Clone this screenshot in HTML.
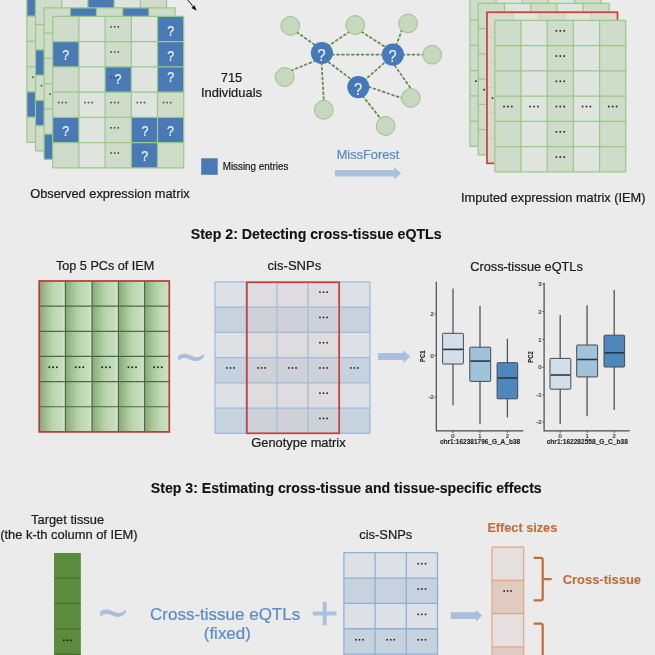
<!DOCTYPE html>
<html><head><meta charset="utf-8"><style>
html,body{margin:0;padding:0;background:#ebebeb;}
body{width:655px;height:655px;overflow:hidden;}
svg{display:block;font-family:"Liberation Sans", sans-serif;filter:blur(0.35px);}
</style></head><body>
<svg width="655" height="655" viewBox="0 0 655 655">
<rect width="655" height="655" fill="#ebebeb"/>
<rect x="26.9" y="-9.05" width="26.2" height="151.5" fill="#cedcc9"/><rect x="53.1" y="-9.05" width="26.2" height="151.5" fill="#dfe5de"/><rect x="79.3" y="-9.05" width="26.2" height="151.5" fill="#cedcc9"/><rect x="105.5" y="-9.05" width="26.2" height="151.5" fill="#dfe5de"/><rect x="131.7" y="-9.05" width="26.2" height="151.5" fill="#cedcc9"/><rect x="26.9" y="-9.05" width="26.2" height="25.25" fill="#4a7ab6"/><rect x="26.9" y="91.95" width="26.2" height="25.25" fill="#4a7ab6"/><rect x="32.1" y="76.4" width="1.6" height="1.6" fill="#4a4a4a"/><rect x="35.7" y="76.4" width="1.6" height="1.6" fill="#4a4a4a"/><rect x="39.3" y="76.4" width="1.6" height="1.6" fill="#4a4a4a"/><path d="M26.9 -9.05V142.45M53.1 -9.05V142.45M79.3 -9.05V142.45M105.5 -9.05V142.45M131.7 -9.05V142.45M157.9 -9.05V142.45M26.9 -9.05H157.9M26.9 16.2H157.9M26.9 41.45H157.9M26.9 66.7H157.9M26.9 91.95H157.9M26.9 117.2H157.9M26.9 142.45H157.9" stroke="#97c987" stroke-width="1.2" fill="none"/>
<rect x="35.5" y="-0.6" width="26.2" height="151.5" fill="#cedcc9"/><rect x="61.7" y="-0.6" width="26.2" height="151.5" fill="#dfe5de"/><rect x="87.9" y="-0.6" width="26.2" height="151.5" fill="#cedcc9"/><rect x="114.1" y="-0.6" width="26.2" height="151.5" fill="#dfe5de"/><rect x="140.3" y="-0.6" width="26.2" height="151.5" fill="#cedcc9"/><rect x="35.5" y="49.9" width="26.2" height="25.25" fill="#4a7ab6"/><rect x="35.5" y="100.4" width="26.2" height="25.25" fill="#4a7ab6"/><rect x="87.9" y="-0.6" width="26.2" height="25.25" fill="#4a7ab6"/><rect x="40.7" y="84.85" width="1.6" height="1.6" fill="#4a4a4a"/><rect x="44.3" y="84.85" width="1.6" height="1.6" fill="#4a4a4a"/><rect x="47.9" y="84.85" width="1.6" height="1.6" fill="#4a4a4a"/><path d="M35.5 -0.6V150.9M61.7 -0.6V150.9M87.9 -0.6V150.9M114.1 -0.6V150.9M140.3 -0.6V150.9M166.5 -0.6V150.9M35.5 -0.6H166.5M35.5 24.65H166.5M35.5 49.9H166.5M35.5 75.15H166.5M35.5 100.4H166.5M35.5 125.65H166.5M35.5 150.9H166.5" stroke="#97c987" stroke-width="1.2" fill="none"/>
<rect x="44.1" y="7.85" width="26.2" height="151.5" fill="#cedcc9"/><rect x="70.3" y="7.85" width="26.2" height="151.5" fill="#dfe5de"/><rect x="96.5" y="7.85" width="26.2" height="151.5" fill="#cedcc9"/><rect x="122.7" y="7.85" width="26.2" height="151.5" fill="#dfe5de"/><rect x="148.9" y="7.85" width="26.2" height="151.5" fill="#cedcc9"/><rect x="44.1" y="134.1" width="26.2" height="25.25" fill="#4a7ab6"/><rect x="70.3" y="7.85" width="26.2" height="25.25" fill="#4a7ab6"/><rect x="122.7" y="7.85" width="26.2" height="25.25" fill="#4a7ab6"/><rect x="49.3" y="93.3" width="1.6" height="1.6" fill="#4a4a4a"/><rect x="52.9" y="93.3" width="1.6" height="1.6" fill="#4a4a4a"/><rect x="56.5" y="93.3" width="1.6" height="1.6" fill="#4a4a4a"/><path d="M44.1 7.85V159.35M70.3 7.85V159.35M96.5 7.85V159.35M122.7 7.85V159.35M148.9 7.85V159.35M175.1 7.85V159.35M44.1 7.85H175.1M44.1 33.1H175.1M44.1 58.35H175.1M44.1 83.6H175.1M44.1 108.85H175.1M44.1 134.1H175.1M44.1 159.35H175.1" stroke="#97c987" stroke-width="1.2" fill="none"/>
<rect x="52.7" y="16.3" width="26.2" height="151.5" fill="#cedcc9"/><rect x="78.9" y="16.3" width="26.2" height="151.5" fill="#dfe5de"/><rect x="105.1" y="16.3" width="26.2" height="151.5" fill="#cedcc9"/><rect x="131.3" y="16.3" width="26.2" height="151.5" fill="#dfe5de"/><rect x="157.5" y="16.3" width="26.2" height="151.5" fill="#cedcc9"/><rect x="157.5" y="16.3" width="26.2" height="25.25" fill="#4a7ab6"/><rect x="52.7" y="41.55" width="26.2" height="25.25" fill="#4a7ab6"/><rect x="157.5" y="41.55" width="26.2" height="25.25" fill="#4a7ab6"/><rect x="105.1" y="66.8" width="26.2" height="25.25" fill="#4a7ab6"/><rect x="157.5" y="66.8" width="26.2" height="25.25" fill="#4a7ab6"/><rect x="52.7" y="117.3" width="26.2" height="25.25" fill="#4a7ab6"/><rect x="131.3" y="117.3" width="26.2" height="25.25" fill="#4a7ab6"/><rect x="157.5" y="117.3" width="26.2" height="25.25" fill="#4a7ab6"/><rect x="131.3" y="142.55" width="26.2" height="25.25" fill="#4a7ab6"/><rect x="110.3" y="26" width="1.6" height="1.6" fill="#4a4a4a"/><rect x="113.9" y="26" width="1.6" height="1.6" fill="#4a4a4a"/><rect x="117.5" y="26" width="1.6" height="1.6" fill="#4a4a4a"/><rect x="110.3" y="51.25" width="1.6" height="1.6" fill="#4a4a4a"/><rect x="113.9" y="51.25" width="1.6" height="1.6" fill="#4a4a4a"/><rect x="117.5" y="51.25" width="1.6" height="1.6" fill="#4a4a4a"/><rect x="110.3" y="76.5" width="1.6" height="1.6" fill="#4a4a4a"/><rect x="113.9" y="76.5" width="1.6" height="1.6" fill="#4a4a4a"/><rect x="117.5" y="76.5" width="1.6" height="1.6" fill="#4a4a4a"/><rect x="57.9" y="101.75" width="1.6" height="1.6" fill="#4a4a4a"/><rect x="61.5" y="101.75" width="1.6" height="1.6" fill="#4a4a4a"/><rect x="65.1" y="101.75" width="1.6" height="1.6" fill="#4a4a4a"/><rect x="84.1" y="101.75" width="1.6" height="1.6" fill="#4a4a4a"/><rect x="87.7" y="101.75" width="1.6" height="1.6" fill="#4a4a4a"/><rect x="91.3" y="101.75" width="1.6" height="1.6" fill="#4a4a4a"/><rect x="110.3" y="101.75" width="1.6" height="1.6" fill="#4a4a4a"/><rect x="113.9" y="101.75" width="1.6" height="1.6" fill="#4a4a4a"/><rect x="117.5" y="101.75" width="1.6" height="1.6" fill="#4a4a4a"/><rect x="136.5" y="101.75" width="1.6" height="1.6" fill="#4a4a4a"/><rect x="140.1" y="101.75" width="1.6" height="1.6" fill="#4a4a4a"/><rect x="143.7" y="101.75" width="1.6" height="1.6" fill="#4a4a4a"/><rect x="162.7" y="101.75" width="1.6" height="1.6" fill="#4a4a4a"/><rect x="166.3" y="101.75" width="1.6" height="1.6" fill="#4a4a4a"/><rect x="169.9" y="101.75" width="1.6" height="1.6" fill="#4a4a4a"/><rect x="110.3" y="127" width="1.6" height="1.6" fill="#4a4a4a"/><rect x="113.9" y="127" width="1.6" height="1.6" fill="#4a4a4a"/><rect x="117.5" y="127" width="1.6" height="1.6" fill="#4a4a4a"/><rect x="110.3" y="152.25" width="1.6" height="1.6" fill="#4a4a4a"/><rect x="113.9" y="152.25" width="1.6" height="1.6" fill="#4a4a4a"/><rect x="117.5" y="152.25" width="1.6" height="1.6" fill="#4a4a4a"/><path d="M52.7 16.3V167.8M78.9 16.3V167.8M105.1 16.3V167.8M131.3 16.3V167.8M157.5 16.3V167.8M183.7 16.3V167.8M52.7 16.3H183.7M52.7 41.55H183.7M52.7 66.8H183.7M52.7 92.05H183.7M52.7 117.3H183.7M52.7 142.55H183.7M52.7 167.8H183.7" stroke="#97c987" stroke-width="1.2" fill="none"/><text transform="translate(170.6 36.07) scale(0.88 1)" font-size="14.2" fill="#eef2f9" stroke="#eef2f9" stroke-width="0.25" text-anchor="middle">?</text><text transform="translate(65.8 60.02) scale(0.88 1)" font-size="14.2" fill="#eef2f9" stroke="#eef2f9" stroke-width="0.25" text-anchor="middle">?</text><text transform="translate(170.7 60.52) scale(0.88 1)" font-size="14.2" fill="#eef2f9" stroke="#eef2f9" stroke-width="0.25" text-anchor="middle">?</text><text transform="translate(118 84.37) scale(0.88 1)" font-size="14.2" fill="#eef2f9" stroke="#eef2f9" stroke-width="0.25" text-anchor="middle">?</text><text transform="translate(170.7 81.97) scale(0.88 1)" font-size="14.2" fill="#eef2f9" stroke="#eef2f9" stroke-width="0.25" text-anchor="middle">?</text><text transform="translate(65.8 136.37) scale(0.88 1)" font-size="14.2" fill="#eef2f9" stroke="#eef2f9" stroke-width="0.25" text-anchor="middle">?</text><text transform="translate(144.9 136.37) scale(0.88 1)" font-size="14.2" fill="#eef2f9" stroke="#eef2f9" stroke-width="0.25" text-anchor="middle">?</text><text transform="translate(170.4 136.37) scale(0.88 1)" font-size="14.2" fill="#eef2f9" stroke="#eef2f9" stroke-width="0.25" text-anchor="middle">?</text><text transform="translate(144.7 160.62) scale(0.88 1)" font-size="14.2" fill="#eef2f9" stroke="#eef2f9" stroke-width="0.25" text-anchor="middle">?</text>
<path d="M187 -1 L193.2 6.6" stroke="#111" stroke-width="1"/>
<path d="M196.6 10.7 L191.3 7.9 L194.6 5.2 Z" fill="#111"/>
<text x="231.5" y="82" font-size="12.9" text-anchor="middle" fill="#1a1a1a" stroke="#1a1a1a" stroke-width="0.22">715</text>
<text x="231.5" y="97" font-size="12.9" text-anchor="middle" fill="#1a1a1a" stroke="#1a1a1a" stroke-width="0.22">Individuals</text>
<path d="M296.27 31.84L315.23 45.16M350.24 31.16L328.56 45.84M331.5 54.6L384 54.6M290.62 70.98L314.68 60.92M321.51 62.2L323.89 101.8M328.1 61.79L351.6 79.61M361.14 31.49L386.16 47.51M402.22 29.19L396.38 44.91M402 54.7L424.1 54.7M384.53 62.71L364.87 79.89M394.44 65.17L411.66 89.63M368.18 86.62L402.72 98.38M362.27 95.42L381.53 119.78" stroke="#5e8a4a" stroke-width="1.7" stroke-dasharray="3.3 1.6" fill="none"/>
<circle cx="290.3" cy="25.8" r="9.4" fill="#c6d9bf" stroke="#9cc18c" stroke-width="1"/>
<circle cx="355.2" cy="25" r="9.4" fill="#c6d9bf" stroke="#9cc18c" stroke-width="1"/>
<circle cx="408.1" cy="23.4" r="9.4" fill="#c6d9bf" stroke="#9cc18c" stroke-width="1"/>
<circle cx="432.2" cy="54.7" r="9.4" fill="#c6d9bf" stroke="#9cc18c" stroke-width="1"/>
<circle cx="284.7" cy="77" r="9.4" fill="#c6d9bf" stroke="#9cc18c" stroke-width="1"/>
<circle cx="323.8" cy="109.8" r="9.4" fill="#c6d9bf" stroke="#9cc18c" stroke-width="1"/>
<circle cx="410.8" cy="97.9" r="9.4" fill="#c6d9bf" stroke="#9cc18c" stroke-width="1"/>
<circle cx="385.6" cy="126" r="9.4" fill="#c6d9bf" stroke="#9cc18c" stroke-width="1"/>
<circle cx="321.9" cy="53" r="11.05" fill="#4679b8"/>
<text transform="translate(321.6 60.5) scale(0.88 1)" font-size="16.6" fill="#eef2f9" stroke="#eef2f9" stroke-width="0.15" text-anchor="middle">?</text>
<circle cx="392.9" cy="54.6" r="11.05" fill="#4679b8"/>
<text transform="translate(392.6 62.1) scale(0.88 1)" font-size="16.6" fill="#eef2f9" stroke="#eef2f9" stroke-width="0.15" text-anchor="middle">?</text>
<circle cx="358.3" cy="87.1" r="11.05" fill="#4679b8"/>
<text transform="translate(358 94.6) scale(0.88 1)" font-size="16.6" fill="#eef2f9" stroke="#eef2f9" stroke-width="0.15" text-anchor="middle">?</text>
<rect x="201.2" y="158.3" width="16.5" height="16.5" fill="#4a7ab6"/>
<text transform="translate(222.7 169.6) scale(0.9 1)" font-size="10.95" fill="#1a1a1a" stroke="#1a1a1a" stroke-width="0.22">Missing entries</text>
<text x="336.7" y="158.7" font-size="12.8" fill="#5b8cc2" stroke="#5b8cc2" stroke-width="0.22">MissForest</text>
<path d="M334.9 169.9 H394.1 V166.9 L401.1 173.2 L394.1 179.7 V176.4 H334.9 Z" fill="#a9c1dd"/>
<text x="30.2" y="197.5" font-size="12.82" fill="#1a1a1a" stroke="#1a1a1a" stroke-width="0.22">Observed expression matrix</text>
<rect x="469.9" y="-5.05" width="26.2" height="151.5" fill="#cedcc9"/><rect x="496.1" y="-5.05" width="26.2" height="151.5" fill="#dfe5de"/><rect x="522.3" y="-5.05" width="26.2" height="151.5" fill="#cedcc9"/><rect x="548.5" y="-5.05" width="26.2" height="151.5" fill="#dfe5de"/><rect x="574.7" y="-5.05" width="26.2" height="151.5" fill="#cedcc9"/><path d="M469.9 -5.05V146.45M496.1 -5.05V146.45M522.3 -5.05V146.45M548.5 -5.05V146.45M574.7 -5.05V146.45M600.9 -5.05V146.45M469.9 -5.05H600.9M469.9 20.2H600.9M469.9 45.45H600.9M469.9 70.7H600.9M469.9 95.95H600.9M469.9 121.2H600.9M469.9 146.45H600.9" stroke="#97c987" stroke-width="1.2" fill="none"/><rect x="475.1" y="80.4" width="1.6" height="1.6" fill="#1e1e1e"/><rect x="478.3" y="80.4" width="1.6" height="1.6" fill="#1e1e1e"/><rect x="481.5" y="80.4" width="1.6" height="1.6" fill="#1e1e1e"/>
<rect x="478.2" y="3.4" width="26.2" height="151.5" fill="#cedcc9"/><rect x="504.4" y="3.4" width="26.2" height="151.5" fill="#dfe5de"/><rect x="530.6" y="3.4" width="26.2" height="151.5" fill="#cedcc9"/><rect x="556.8" y="3.4" width="26.2" height="151.5" fill="#dfe5de"/><rect x="583" y="3.4" width="26.2" height="151.5" fill="#cedcc9"/><path d="M478.2 3.4V154.9M504.4 3.4V154.9M530.6 3.4V154.9M556.8 3.4V154.9M583 3.4V154.9M609.2 3.4V154.9M478.2 3.4H609.2M478.2 28.65H609.2M478.2 53.9H609.2M478.2 79.15H609.2M478.2 104.4H609.2M478.2 129.65H609.2M478.2 154.9H609.2" stroke="#97c987" stroke-width="1.2" fill="none"/><rect x="483.4" y="88.85" width="1.6" height="1.6" fill="#1e1e1e"/><rect x="486.6" y="88.85" width="1.6" height="1.6" fill="#1e1e1e"/><rect x="489.8" y="88.85" width="1.6" height="1.6" fill="#1e1e1e"/>
<rect x="486.5" y="11.85" width="26.2" height="151.5" fill="#d9dccc"/><rect x="512.7" y="11.85" width="26.2" height="151.5" fill="#e3e5dc"/><rect x="538.9" y="11.85" width="26.2" height="151.5" fill="#d9dccc"/><rect x="565.1" y="11.85" width="26.2" height="151.5" fill="#e3e5dc"/><rect x="591.3" y="11.85" width="26.2" height="151.5" fill="#d9dccc"/><path d="M486.5 11.85V163.35M512.7 11.85V163.35M538.9 11.85V163.35M565.1 11.85V163.35M591.3 11.85V163.35M617.5 11.85V163.35M486.5 11.85H617.5M486.5 37.1H617.5M486.5 62.35H617.5M486.5 87.6H617.5M486.5 112.85H617.5M486.5 138.1H617.5M486.5 163.35H617.5" stroke="#c2d9b2" stroke-width="1.2" fill="none"/><rect x="491.7" y="97.3" width="1.6" height="1.6" fill="#1e1e1e"/><rect x="494.9" y="97.3" width="1.6" height="1.6" fill="#1e1e1e"/><rect x="498.1" y="97.3" width="1.6" height="1.6" fill="#1e1e1e"/><rect x="487" y="12.25" width="130.5" height="151.1" fill="none" stroke="#c9423a" stroke-width="1.7"/>
<rect x="494.8" y="20.3" width="26.2" height="151.5" fill="#cedcc9"/><rect x="521" y="20.3" width="26.2" height="151.5" fill="#dfe5de"/><rect x="547.2" y="20.3" width="26.2" height="151.5" fill="#cedcc9"/><rect x="573.4" y="20.3" width="26.2" height="151.5" fill="#dfe5de"/><rect x="599.6" y="20.3" width="26.2" height="151.5" fill="#cedcc9"/><rect x="555.6" y="30" width="1.6" height="1.6" fill="#1e1e1e"/><rect x="559.5" y="30" width="1.6" height="1.6" fill="#1e1e1e"/><rect x="563.4" y="30" width="1.6" height="1.6" fill="#1e1e1e"/><rect x="555.6" y="55.25" width="1.6" height="1.6" fill="#1e1e1e"/><rect x="559.5" y="55.25" width="1.6" height="1.6" fill="#1e1e1e"/><rect x="563.4" y="55.25" width="1.6" height="1.6" fill="#1e1e1e"/><rect x="555.6" y="80.5" width="1.6" height="1.6" fill="#1e1e1e"/><rect x="559.5" y="80.5" width="1.6" height="1.6" fill="#1e1e1e"/><rect x="563.4" y="80.5" width="1.6" height="1.6" fill="#1e1e1e"/><rect x="555.6" y="105.75" width="1.6" height="1.6" fill="#1e1e1e"/><rect x="559.5" y="105.75" width="1.6" height="1.6" fill="#1e1e1e"/><rect x="563.4" y="105.75" width="1.6" height="1.6" fill="#1e1e1e"/><rect x="555.6" y="131" width="1.6" height="1.6" fill="#1e1e1e"/><rect x="559.5" y="131" width="1.6" height="1.6" fill="#1e1e1e"/><rect x="563.4" y="131" width="1.6" height="1.6" fill="#1e1e1e"/><rect x="555.6" y="156.25" width="1.6" height="1.6" fill="#1e1e1e"/><rect x="559.5" y="156.25" width="1.6" height="1.6" fill="#1e1e1e"/><rect x="563.4" y="156.25" width="1.6" height="1.6" fill="#1e1e1e"/><rect x="503.2" y="105.75" width="1.6" height="1.6" fill="#1e1e1e"/><rect x="507.1" y="105.75" width="1.6" height="1.6" fill="#1e1e1e"/><rect x="511" y="105.75" width="1.6" height="1.6" fill="#1e1e1e"/><rect x="529.4" y="105.75" width="1.6" height="1.6" fill="#1e1e1e"/><rect x="533.3" y="105.75" width="1.6" height="1.6" fill="#1e1e1e"/><rect x="537.2" y="105.75" width="1.6" height="1.6" fill="#1e1e1e"/><rect x="581.8" y="105.75" width="1.6" height="1.6" fill="#1e1e1e"/><rect x="585.7" y="105.75" width="1.6" height="1.6" fill="#1e1e1e"/><rect x="589.6" y="105.75" width="1.6" height="1.6" fill="#1e1e1e"/><rect x="608" y="105.75" width="1.6" height="1.6" fill="#1e1e1e"/><rect x="611.9" y="105.75" width="1.6" height="1.6" fill="#1e1e1e"/><rect x="615.8" y="105.75" width="1.6" height="1.6" fill="#1e1e1e"/><path d="M494.8 20.3V171.8M521 20.3V171.8M547.2 20.3V171.8M573.4 20.3V171.8M599.6 20.3V171.8M625.8 20.3V171.8M494.8 20.3H625.8M494.8 45.55H625.8M494.8 70.8H625.8M494.8 96.05H625.8M494.8 121.3H625.8M494.8 146.55H625.8M494.8 171.8H625.8" stroke="#97c987" stroke-width="1.2" fill="none"/>
<text x="461" y="201.9" font-size="12.78" fill="#1a1a1a" stroke="#1a1a1a" stroke-width="0.22">Imputed expression matrix (IEM)</text>
<text x="190.7" y="239" font-size="14.16" font-weight="bold" fill="#111" stroke="#111" stroke-width="0.1">Step 2: Detecting cross-tissue eQTLs</text>
<text x="56" y="269.8" font-size="12.63" fill="#1a1a1a" stroke="#1a1a1a" stroke-width="0.22">Top 5 PCs of IEM</text>
<text x="267.6" y="270.1" font-size="13.05" fill="#1a1a1a" stroke="#1a1a1a" stroke-width="0.22">cis-SNPs</text>
<text x="251.3" y="447.4" font-size="12.86" fill="#1a1a1a" stroke="#1a1a1a" stroke-width="0.22">Genotype matrix</text>
<text x="470.3" y="271.4" font-size="12.74" fill="#1a1a1a" stroke="#1a1a1a" stroke-width="0.22">Cross-tissue eQTLs</text>
<defs><linearGradient id="pcg" x1="0" x2="1" y1="0" y2="0">
<stop offset="0" stop-color="#86a779"/><stop offset="0.15" stop-color="#95b687"/><stop offset="0.4" stop-color="#b0cea1"/>
<stop offset="0.6" stop-color="#bed8b2"/><stop offset="0.85" stop-color="#c6ddbd"/><stop offset="0.95" stop-color="#d2e6ca"/><stop offset="1" stop-color="#d8ebd0"/></linearGradient></defs>
<rect x="39.2" y="281" width="26.2" height="150.9" fill="url(#pcg)"/>
<rect x="65.4" y="281" width="26.6" height="150.9" fill="url(#pcg)"/>
<rect x="92" y="281" width="26.4" height="150.9" fill="url(#pcg)"/>
<rect x="118.4" y="281" width="26.1" height="150.9" fill="url(#pcg)"/>
<rect x="144.5" y="281" width="25.3" height="150.9" fill="url(#pcg)"/>
<path d="M65.4 281V431.9M92 281V431.9M118.4 281V431.9M144.5 281V431.9M39.2 306.15H169.8M39.2 331.3H169.8M39.2 356.45H169.8M39.2 381.6H169.8M39.2 406.75H169.8" stroke="#4a6a43" stroke-width="1.2" fill="none"/>
<rect x="48.45" y="366.4" width="1.7" height="1.7" fill="#1e1e1e"/><rect x="52.25" y="366.4" width="1.7" height="1.7" fill="#1e1e1e"/><rect x="56.05" y="366.4" width="1.7" height="1.7" fill="#1e1e1e"/>
<rect x="74.85" y="366.4" width="1.7" height="1.7" fill="#1e1e1e"/><rect x="78.65" y="366.4" width="1.7" height="1.7" fill="#1e1e1e"/><rect x="82.45" y="366.4" width="1.7" height="1.7" fill="#1e1e1e"/>
<rect x="101.35" y="366.4" width="1.7" height="1.7" fill="#1e1e1e"/><rect x="105.15" y="366.4" width="1.7" height="1.7" fill="#1e1e1e"/><rect x="108.95" y="366.4" width="1.7" height="1.7" fill="#1e1e1e"/>
<rect x="127.6" y="366.4" width="1.7" height="1.7" fill="#1e1e1e"/><rect x="131.4" y="366.4" width="1.7" height="1.7" fill="#1e1e1e"/><rect x="135.2" y="366.4" width="1.7" height="1.7" fill="#1e1e1e"/>
<rect x="153.3" y="366.4" width="1.7" height="1.7" fill="#1e1e1e"/><rect x="157.1" y="366.4" width="1.7" height="1.7" fill="#1e1e1e"/><rect x="160.9" y="366.4" width="1.7" height="1.7" fill="#1e1e1e"/>
<rect x="39.2" y="281" width="130.1" height="150.9" fill="none" stroke="#b93a33" stroke-width="1.7"/>
<path transform="translate(178 353.2) scale(1 1)" d="M0.2 2.8 C2.5 0.6 6.5 -0.2 10.5 1.3 C14 2.6 17 4.3 20 3.9 C22.5 3.6 24.5 2 26 0.6 L26 3.6 C24 6 21.5 7.8 18.5 7.9 C15 8 12 6 9 5.2 C5.5 4.3 2.5 5.5 0.2 8 Z" fill="#a9c0dd"/>
<rect x="215" y="281.9" width="31" height="25.25" fill="#dde1e6"/>
<rect x="246" y="281.9" width="31" height="25.25" fill="#dfdcdf"/>
<rect x="277" y="281.9" width="31" height="25.25" fill="#dfdcdf"/>
<rect x="308" y="281.9" width="31" height="25.25" fill="#dfdcdf"/>
<rect x="339" y="281.9" width="31" height="25.25" fill="#dde1e6"/>
<rect x="215" y="307.15" width="31" height="25.25" fill="#c7d2df"/>
<rect x="246" y="307.15" width="31" height="25.25" fill="#cfd1d9"/>
<rect x="277" y="307.15" width="31" height="25.25" fill="#cfd1d9"/>
<rect x="308" y="307.15" width="31" height="25.25" fill="#cfd1d9"/>
<rect x="339" y="307.15" width="31" height="25.25" fill="#c7d2df"/>
<rect x="215" y="332.4" width="31" height="25.25" fill="#dde1e6"/>
<rect x="246" y="332.4" width="31" height="25.25" fill="#dfdcdf"/>
<rect x="277" y="332.4" width="31" height="25.25" fill="#dfdcdf"/>
<rect x="308" y="332.4" width="31" height="25.25" fill="#dfdcdf"/>
<rect x="339" y="332.4" width="31" height="25.25" fill="#dde1e6"/>
<rect x="215" y="357.65" width="31" height="25.25" fill="#c7d2df"/>
<rect x="246" y="357.65" width="31" height="25.25" fill="#cfd1d9"/>
<rect x="277" y="357.65" width="31" height="25.25" fill="#cfd1d9"/>
<rect x="308" y="357.65" width="31" height="25.25" fill="#cfd1d9"/>
<rect x="339" y="357.65" width="31" height="25.25" fill="#c7d2df"/>
<rect x="215" y="382.9" width="31" height="25.25" fill="#dde1e6"/>
<rect x="246" y="382.9" width="31" height="25.25" fill="#dfdcdf"/>
<rect x="277" y="382.9" width="31" height="25.25" fill="#dfdcdf"/>
<rect x="308" y="382.9" width="31" height="25.25" fill="#dfdcdf"/>
<rect x="339" y="382.9" width="31" height="25.25" fill="#dde1e6"/>
<rect x="215" y="408.15" width="31" height="25.25" fill="#c7d2df"/>
<rect x="246" y="408.15" width="31" height="25.25" fill="#cfd1d9"/>
<rect x="277" y="408.15" width="31" height="25.25" fill="#cfd1d9"/>
<rect x="308" y="408.15" width="31" height="25.25" fill="#cfd1d9"/>
<rect x="339" y="408.15" width="31" height="25.25" fill="#c7d2df"/>
<path d="M215 281.9V433.4M246 281.9V433.4M277 281.9V433.4M308 281.9V433.4M339 281.9V433.4M370 281.9V433.4M215 281.9H370M215 307.15H370M215 332.4H370M215 357.65H370M215 382.9H370M215 408.15H370M215 433.4H370" stroke="#9ebbdb" stroke-width="1.2" fill="none"/>
<rect x="319.1" y="291.4" width="1.6" height="1.6" fill="#222"/><rect x="322.7" y="291.4" width="1.6" height="1.6" fill="#222"/><rect x="326.3" y="291.4" width="1.6" height="1.6" fill="#222"/>
<rect x="319.1" y="316.65" width="1.6" height="1.6" fill="#222"/><rect x="322.7" y="316.65" width="1.6" height="1.6" fill="#222"/><rect x="326.3" y="316.65" width="1.6" height="1.6" fill="#222"/>
<rect x="319.1" y="341.9" width="1.6" height="1.6" fill="#222"/><rect x="322.7" y="341.9" width="1.6" height="1.6" fill="#222"/><rect x="326.3" y="341.9" width="1.6" height="1.6" fill="#222"/>
<rect x="319.1" y="367.15" width="1.6" height="1.6" fill="#222"/><rect x="322.7" y="367.15" width="1.6" height="1.6" fill="#222"/><rect x="326.3" y="367.15" width="1.6" height="1.6" fill="#222"/>
<rect x="319.1" y="392.4" width="1.6" height="1.6" fill="#222"/><rect x="322.7" y="392.4" width="1.6" height="1.6" fill="#222"/><rect x="326.3" y="392.4" width="1.6" height="1.6" fill="#222"/>
<rect x="319.1" y="417.65" width="1.6" height="1.6" fill="#222"/><rect x="322.7" y="417.65" width="1.6" height="1.6" fill="#222"/><rect x="326.3" y="417.65" width="1.6" height="1.6" fill="#222"/>
<rect x="226.1" y="367.15" width="1.6" height="1.6" fill="#222"/><rect x="229.7" y="367.15" width="1.6" height="1.6" fill="#222"/><rect x="233.3" y="367.15" width="1.6" height="1.6" fill="#222"/>
<rect x="257.1" y="367.15" width="1.6" height="1.6" fill="#222"/><rect x="260.7" y="367.15" width="1.6" height="1.6" fill="#222"/><rect x="264.3" y="367.15" width="1.6" height="1.6" fill="#222"/>
<rect x="288.1" y="367.15" width="1.6" height="1.6" fill="#222"/><rect x="291.7" y="367.15" width="1.6" height="1.6" fill="#222"/><rect x="295.3" y="367.15" width="1.6" height="1.6" fill="#222"/>
<rect x="350.1" y="367.15" width="1.6" height="1.6" fill="#222"/><rect x="353.7" y="367.15" width="1.6" height="1.6" fill="#222"/><rect x="357.3" y="367.15" width="1.6" height="1.6" fill="#222"/>
<rect x="246.9" y="282.3" width="92.3" height="151" fill="none" stroke="#c4423a" stroke-width="1.7"/>
<path d="M378 353.1 H403.4 V350.3 L410.2 356.6 L403.4 362.9 V359.9 H378 Z" fill="#a9c0dc"/>
<path d="M436.3 281.7V430.9H523.3" stroke="#4a4a4a" stroke-width="1.2" fill="none"/><path d="M434.5 314H436.3" stroke="#444" stroke-width="0.8"/><text x="433.8" y="316.1" font-size="5.9" fill="#444" text-anchor="end" stroke="#444" stroke-width="0.22">2</text><path d="M434.5 355.4H436.3" stroke="#444" stroke-width="0.8"/><text x="433.8" y="357.5" font-size="5.9" fill="#444" text-anchor="end" stroke="#444" stroke-width="0.22">0</text><path d="M434.5 397.3H436.3" stroke="#444" stroke-width="0.8"/><text x="433.8" y="399.4" font-size="5.9" fill="#444" text-anchor="end" stroke="#444" stroke-width="0.22">-2</text><path d="M453 288.4V405.2" stroke="#555" stroke-width="1.3"/><rect x="442.6" y="333.3" width="20.8" height="30.7" rx="0.8" fill="#d2dfeb" stroke="#4a4a4a" stroke-width="1"/><path d="M443.1 349.4H462.9" stroke="#2b3640" stroke-width="1.6"/><path d="M453 430.9v2" stroke="#333" stroke-width="0.8"/><text x="453" y="437.8" font-size="5.9" fill="#444" text-anchor="middle" stroke="#444" stroke-width="0.22">0</text><path d="M480 305.8V424" stroke="#555" stroke-width="1.3"/><rect x="469.8" y="347.2" width="20.9" height="34.2" rx="0.8" fill="#9ec3da" stroke="#4a4a4a" stroke-width="1"/><path d="M470.3 361.1H490.2" stroke="#2b3640" stroke-width="1.6"/><path d="M480 430.9v2" stroke="#333" stroke-width="0.8"/><text x="480" y="437.8" font-size="5.9" fill="#444" text-anchor="middle" stroke="#444" stroke-width="0.22">1</text><path d="M507.4 338.7V417.5" stroke="#555" stroke-width="1.3"/><rect x="497.1" y="362.7" width="20.6" height="36.1" rx="0.8" fill="#4e87bc" stroke="#4a4a4a" stroke-width="1"/><path d="M497.6 378H517.2" stroke="#2b3640" stroke-width="1.6"/><path d="M507.4 430.9v2" stroke="#333" stroke-width="0.8"/><text x="507.4" y="437.8" font-size="5.9" fill="#444" text-anchor="middle" stroke="#444" stroke-width="0.22">2</text><text transform="translate(425 356.3) rotate(-90) scale(0.86 1)" font-size="6.8" font-weight="bold" fill="#222" text-anchor="middle" stroke="#222" stroke-width="0.1">PC1</text><text x="440" y="444.3" font-size="7.4" font-weight="bold" fill="#222" textLength="80.1" lengthAdjust="spacingAndGlyphs" stroke="#222" stroke-width="0.1">chr1:162381796_G_A_b38</text>
<path d="M544.1 283V430.9H629.7" stroke="#4a4a4a" stroke-width="1.2" fill="none"/><path d="M542.3 283.8H544.1" stroke="#444" stroke-width="0.8"/><text x="541.6" y="285.9" font-size="5.9" fill="#444" text-anchor="end" stroke="#444" stroke-width="0.22">3</text><path d="M542.3 311.6H544.1" stroke="#444" stroke-width="0.8"/><text x="541.6" y="313.7" font-size="5.9" fill="#444" text-anchor="end" stroke="#444" stroke-width="0.22">2</text><path d="M542.3 339.5H544.1" stroke="#444" stroke-width="0.8"/><text x="541.6" y="341.6" font-size="5.9" fill="#444" text-anchor="end" stroke="#444" stroke-width="0.22">1</text><path d="M542.3 367.3H544.1" stroke="#444" stroke-width="0.8"/><text x="541.6" y="369.4" font-size="5.9" fill="#444" text-anchor="end" stroke="#444" stroke-width="0.22">0</text><path d="M542.3 394.8H544.1" stroke="#444" stroke-width="0.8"/><text x="541.6" y="396.9" font-size="5.9" fill="#444" text-anchor="end" stroke="#444" stroke-width="0.22">-1</text><path d="M542.3 422.1H544.1" stroke="#444" stroke-width="0.8"/><text x="541.6" y="424.2" font-size="5.9" fill="#444" text-anchor="end" stroke="#444" stroke-width="0.22">-2</text><path d="M560.2 315.1V424" stroke="#555" stroke-width="1.3"/><rect x="550" y="358.4" width="20.8" height="30.8" rx="0.8" fill="#d2dfeb" stroke="#4a4a4a" stroke-width="1"/><path d="M550.5 375H570.3" stroke="#2b3640" stroke-width="1.6"/><path d="M560.2 430.9v2" stroke="#333" stroke-width="0.8"/><text x="560.2" y="437.8" font-size="5.9" fill="#444" text-anchor="middle" stroke="#444" stroke-width="0.22">0</text><path d="M587.1 305.2V416.2" stroke="#555" stroke-width="1.3"/><rect x="576.7" y="345" width="20.9" height="31.9" rx="0.8" fill="#9ec3da" stroke="#4a4a4a" stroke-width="1"/><path d="M577.2 359.5H597.1" stroke="#2b3640" stroke-width="1.6"/><path d="M587.1 430.9v2" stroke="#333" stroke-width="0.8"/><text x="587.1" y="437.8" font-size="5.9" fill="#444" text-anchor="middle" stroke="#444" stroke-width="0.22">1</text><path d="M614.2 290V410" stroke="#555" stroke-width="1.3"/><rect x="604" y="335.2" width="20.6" height="31.8" rx="0.8" fill="#4e87bc" stroke="#4a4a4a" stroke-width="1"/><path d="M604.5 352.8H624.1" stroke="#2b3640" stroke-width="1.6"/><path d="M614.2 430.9v2" stroke="#333" stroke-width="0.8"/><text x="614.2" y="437.8" font-size="5.9" fill="#444" text-anchor="middle" stroke="#444" stroke-width="0.22">2</text><text transform="translate(532.5 357) rotate(-90) scale(0.86 1)" font-size="6.8" font-weight="bold" fill="#222" text-anchor="middle" stroke="#222" stroke-width="0.1">PC2</text><text x="546.7" y="444.3" font-size="7.4" font-weight="bold" fill="#222" textLength="81.1" lengthAdjust="spacingAndGlyphs" stroke="#222" stroke-width="0.1">chr1:162282558_G_C_b38</text>
<text x="150.8" y="492.5" font-size="14.13" font-weight="bold" fill="#111" stroke="#111" stroke-width="0.1">Step 3: Estimating cross-tissue and tissue-specific effects</text>
<text x="67.6" y="523.9" font-size="12.9" fill="#1a1a1a" text-anchor="middle" stroke="#1a1a1a" stroke-width="0.22">Target tissue</text>
<text x="68.95" y="539.1" font-size="12.88" fill="#1a1a1a" text-anchor="middle" stroke="#1a1a1a" stroke-width="0.22">(the k-th column of IEM)</text>
<rect x="54.2" y="553" width="26.4" height="110" fill="#5b8c3e"/>
<path d="M54.2 578.3H80.6M54.2 603.6H80.6M54.2 628.9H80.6M54.2 654.2H80.6" stroke="#467532" stroke-width="1.5" fill="none"/>
<path d="M54.5 553V660M80.3 553V660" stroke="#507f3a" stroke-width="0.6" fill="none"/>
<rect x="63" y="639.5" width="1.6" height="1.6" fill="#111"/><rect x="66.6" y="639.5" width="1.6" height="1.6" fill="#111"/><rect x="70.2" y="639.5" width="1.6" height="1.6" fill="#111"/>
<path transform="translate(100 609) scale(1 1)" d="M0.2 2.8 C2.5 0.6 6.5 -0.2 10.5 1.3 C14 2.6 17 4.3 20 3.9 C22.5 3.6 24.5 2 26 0.6 L26 3.6 C24 6 21.5 7.8 18.5 7.9 C15 8 12 6 9 5.2 C5.5 4.3 2.5 5.5 0.2 8 Z" fill="#a9c0dd"/>
<text x="150.1" y="620.3" font-size="16.99" fill="#5b8cc2" stroke="#5b8cc2" stroke-width="0.22">Cross-tissue eQTLs</text>
<text x="203.8" y="638.6" font-size="16.92" fill="#5b8cc2" stroke="#5b8cc2" stroke-width="0.22">(fixed)</text>
<path d="M312.8 611.6 H322.7 V601.8 H326.7 V611.6 H336.5 V615.6 H326.7 V625.3 H322.7 V615.6 H312.8 Z" fill="#a9c1dd"/>
<text x="359.3" y="539.3" font-size="12.89" fill="#1a1a1a" stroke="#1a1a1a" stroke-width="0.22">cis-SNPs</text>
<rect x="343.9" y="552.7" width="31.2" height="25.35" fill="#dde1e6"/>
<rect x="375.1" y="552.7" width="31.2" height="25.35" fill="#dde1e6"/>
<rect x="406.3" y="552.7" width="31.2" height="25.35" fill="#dde1e6"/>
<rect x="343.9" y="578.05" width="31.2" height="25.35" fill="#c7d2df"/>
<rect x="375.1" y="578.05" width="31.2" height="25.35" fill="#c7d2df"/>
<rect x="406.3" y="578.05" width="31.2" height="25.35" fill="#c7d2df"/>
<rect x="343.9" y="603.4" width="31.2" height="25.35" fill="#dde1e6"/>
<rect x="375.1" y="603.4" width="31.2" height="25.35" fill="#dde1e6"/>
<rect x="406.3" y="603.4" width="31.2" height="25.35" fill="#dde1e6"/>
<rect x="343.9" y="628.75" width="31.2" height="25.35" fill="#c7d2df"/>
<rect x="375.1" y="628.75" width="31.2" height="25.35" fill="#c7d2df"/>
<rect x="406.3" y="628.75" width="31.2" height="25.35" fill="#c7d2df"/>
<rect x="343.9" y="654.1" width="31.2" height="25.35" fill="#dde1e6"/>
<rect x="375.1" y="654.1" width="31.2" height="25.35" fill="#dde1e6"/>
<rect x="406.3" y="654.1" width="31.2" height="25.35" fill="#dde1e6"/>
<path d="M343.9 552.7V679.45M375.1 552.7V679.45M406.3 552.7V679.45M437.5 552.7V679.45M343.9 552.7H437.5M343.9 578.05H437.5M343.9 603.4H437.5M343.9 628.75H437.5M343.9 654.1H437.5M343.9 679.45H437.5" stroke="#8cb0d6" stroke-width="1.3" fill="none"/>
<rect x="417.5" y="562.9" width="1.6" height="1.6" fill="#222"/><rect x="421.1" y="562.9" width="1.6" height="1.6" fill="#222"/><rect x="424.7" y="562.9" width="1.6" height="1.6" fill="#222"/>
<rect x="417.5" y="588.25" width="1.6" height="1.6" fill="#222"/><rect x="421.1" y="588.25" width="1.6" height="1.6" fill="#222"/><rect x="424.7" y="588.25" width="1.6" height="1.6" fill="#222"/>
<rect x="417.5" y="613.6" width="1.6" height="1.6" fill="#222"/><rect x="421.1" y="613.6" width="1.6" height="1.6" fill="#222"/><rect x="424.7" y="613.6" width="1.6" height="1.6" fill="#222"/>
<rect x="417.5" y="638.95" width="1.6" height="1.6" fill="#222"/><rect x="421.1" y="638.95" width="1.6" height="1.6" fill="#222"/><rect x="424.7" y="638.95" width="1.6" height="1.6" fill="#222"/>
<rect x="355.1" y="638.95" width="1.6" height="1.6" fill="#222"/><rect x="358.7" y="638.95" width="1.6" height="1.6" fill="#222"/><rect x="362.3" y="638.95" width="1.6" height="1.6" fill="#222"/>
<rect x="386.3" y="638.95" width="1.6" height="1.6" fill="#222"/><rect x="389.9" y="638.95" width="1.6" height="1.6" fill="#222"/><rect x="393.5" y="638.95" width="1.6" height="1.6" fill="#222"/>
<path d="M450.8 612.2 H476 V609.8 L482.1 615.6 L476 621.7 V618.9 H450.8 Z" fill="#a9c0dc"/>
<text x="487.4" y="531.7" font-size="12.7" font-weight="bold" fill="#c36c37" stroke="#c36c37" stroke-width="0.1">Effect sizes</text>
<rect x="492" y="547.2" width="31.7" height="33.2" fill="#e5dfdf"/>
<rect x="492" y="580.4" width="31.7" height="33.2" fill="#dfcbc2"/>
<rect x="492" y="613.6" width="31.7" height="33.2" fill="#e5dfdf"/>
<rect x="492" y="646.8" width="31.7" height="33.2" fill="#dfcbc2"/>
<path d="M492 547.2V660M523.7 547.2V660M492 547.2H523.7M492 580.4H523.7M492 613.6H523.7M492 646.8H523.7" stroke="#e3a584" stroke-width="1.2" fill="none"/>
<rect x="503.4" y="590.2" width="1.6" height="1.6" fill="#222"/><rect x="506.8" y="590.2" width="1.6" height="1.6" fill="#222"/><rect x="510.2" y="590.2" width="1.6" height="1.6" fill="#222"/>
<path d="M533.7 557.8 H540.6 Q542.7 557.8 542.7 559.9 V598.3 Q542.7 600.4 540.6 600.4 H533.7 M542.7 579.1 H551.6" stroke="#c36c37" stroke-width="2.2" fill="none"/>
<path d="M533.7 623.7 H540.6 Q542.7 623.7 542.7 625.8 V660" stroke="#c36c37" stroke-width="2.2" fill="none"/>
<text x="562.7" y="583.8" font-size="12.95" font-weight="bold" fill="#c36c37" stroke="#c36c37" stroke-width="0.1">Cross-tissue</text>
</svg></body></html>
